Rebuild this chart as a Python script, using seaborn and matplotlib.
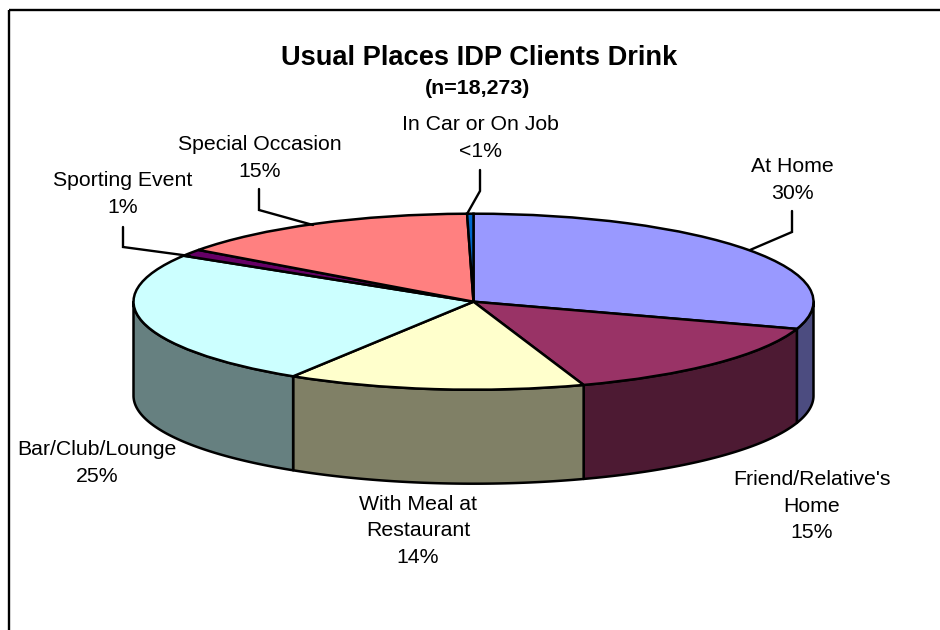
import matplotlib
matplotlib.use("Agg")
import matplotlib.pyplot as plt
from matplotlib.patches import Polygon, Rectangle
import seaborn as sns
import numpy as np

# Slices clockwise from 12 o'clock, shares
categories = ["At Home", "Friend/Relative's\nHome", "With Meal at\nRestaurant", "Bar/Club/Lounge",
              "Sporting Event", "Special Occasion", "In Car or On Job"]
values = [30.0, 14.75, 14.15, 24.85, 1.25, 14.7, 0.3]
value_labels = ["30%", "15%", "14%", "25%", "1%", "15%", "<1%"]
top_colors = ["#9999FF", "#993366", "#FFFFCC", "#CCFFFF", "#660066", "#FF8080", "#0066CC"]
side_colors = ["#4C4C80", "#4D1A33", "#808066", "#668080", "#330033", "#804040", "#003366"]

title = "Usual Places IDP Clients Drink"
subtitle = "(n=18,273)"

# pixel layout of the 3D pie
cx, cy, rx, ry, depth = 473.5, 301.7, 340, 88, 94
label_pos = [(792, 180), (812, 506), (418, 531), (97, 463), (123, 194), (260, 158), (480, 138)]
leaders = [[(750, 250), (792, 232), (792, 211)],
           [],
           [],
           [],
           [(190, 256), (123, 247), (123, 227)],
           [(313, 225), (259, 210), (259, 189)],
           [(467, 214), (480, 191), (480, 170)]]

sns.set_theme(style="white")
plt.rcParams["font.family"] = ["Liberation Sans", "DejaVu Sans"]

fig = plt.figure(figsize=(9.4, 6.3), dpi=100)
ax = fig.add_axes([0, 0, 1, 1])
ax.set_xlim(0, 940)
ax.set_ylim(630, 0)
ax.axis("off")

ax.add_patch(Rectangle((9, 10), 1000, 700, fill=False, ec="black", lw=1.7))

# side walls, only the front half of the rim shows
edges = np.cumsum([0] + values) / sum(values) * 2 * np.pi
for i in range(len(values)):
    a0 = max(edges[i], np.pi / 2)
    a1 = min(edges[i + 1], 3 * np.pi / 2)
    if a1 <= a0:
        continue
    t = np.linspace(a0, a1, 80)
    x = cx + rx * np.sin(t)
    y = cy - ry * np.cos(t)
    pts = np.r_[np.c_[x, y], np.c_[x, y + depth][::-1]]
    ax.add_patch(Polygon(pts, closed=True, fc=side_colors[i], ec="black", lw=1.8, joinstyle="round"))

# top face, a normal pie squashed into the ellipse
pie_ax = fig.add_axes([0, 0, 1, 1], facecolor="none")
pie_ax.pie(values, colors=top_colors, startangle=90, counterclock=False, radius=1,
           wedgeprops={"edgecolor": "black", "linewidth": 1.8})
pie_ax.set_aspect("auto")
pie_ax.set_xlim(-cx / rx, (940 - cx) / rx)
pie_ax.set_ylim((cy - 630) / ry, cy / ry)
pie_ax.axis("off")

# overlay for leaders and labels
top = fig.add_axes([0, 0, 1, 1], facecolor="none")
top.set_xlim(0, 940)
top.set_ylim(630, 0)
top.axis("off")

for line in leaders:
    if line:
        xs, ys = zip(*line)
        top.plot(xs, ys, color="black", lw=1.7, solid_joinstyle="miter")

for name, val, (px, py) in zip(categories, value_labels, label_pos):
    top.text(px, py, name + "\n" + val, ha="center", va="center", fontsize=15.3,
             linespacing=1.53, color="black")

top.text(479, 58, title, ha="center", va="center", fontsize=19.6, fontweight="bold", color="black")
top.text(478, 89, subtitle, ha="center", va="center", fontsize=15.4, fontweight="bold", color="black")

fig.savefig("out.png", dpi=100)
